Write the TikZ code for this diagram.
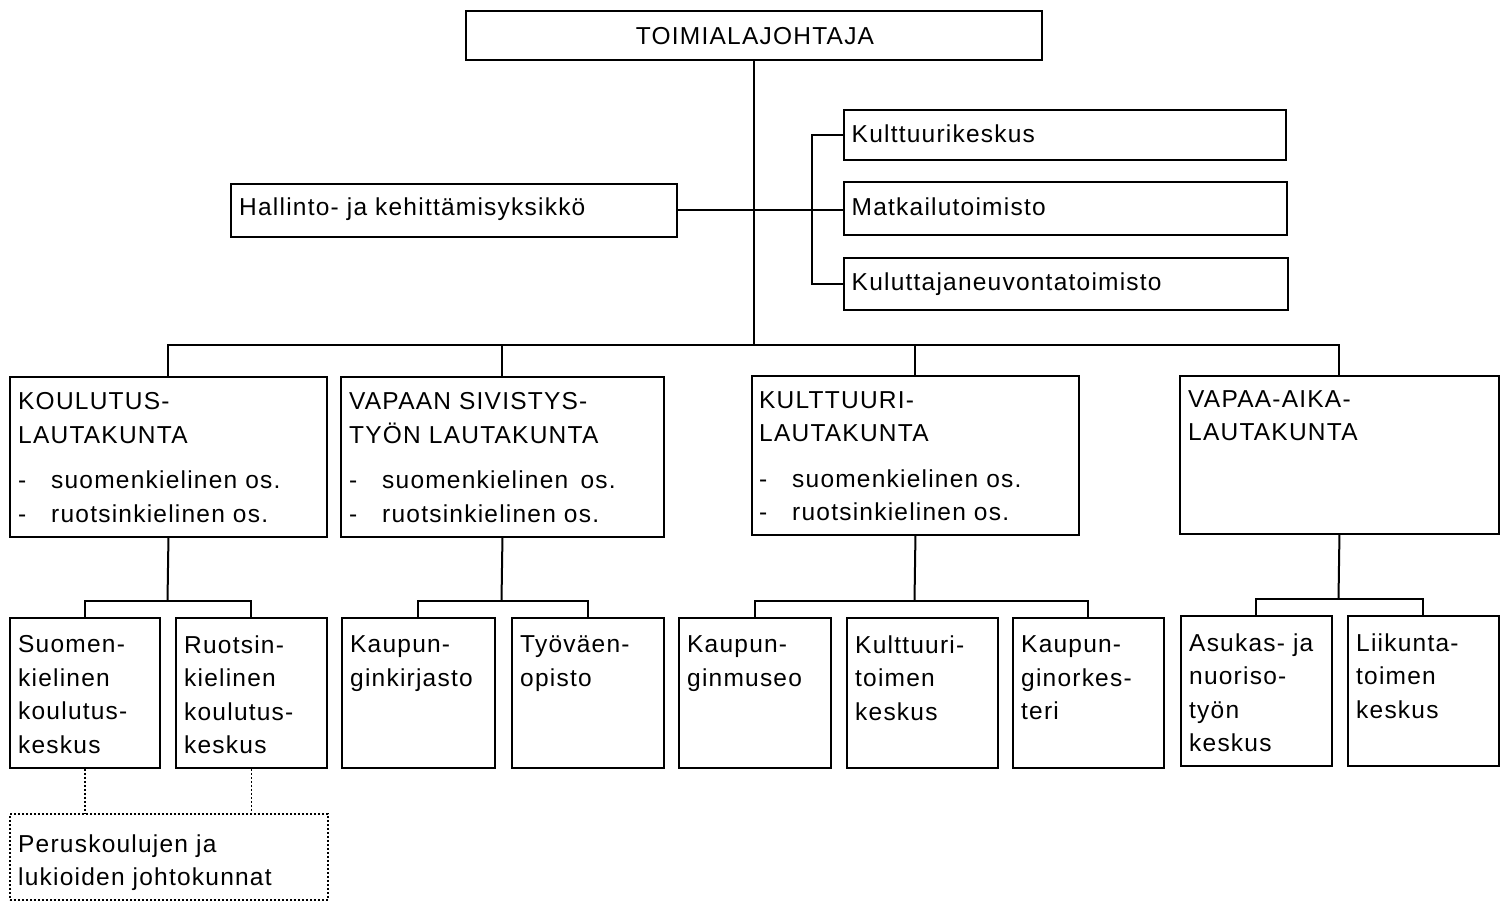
\documentclass[tikz,border=0pt]{standalone}
\usepackage{fontspec}
\setmainfont{Liberation Sans}[LetterSpace=5]
\newcommand\diafs{\fontsize{24.5}{33.5}\selectfont}
\newcommand\li[1]{\makebox[33pt][l]{-}#1}
\begin{document}
\begin{tikzpicture}[x=1pt,y=-1pt,
 box/.style={draw, line width=1.9pt, inner sep=0pt, anchor=north west},
 dbox/.style={box, line width=1.7pt, dash pattern=on 1.7pt off 2.3pt},
 txt/.style={inner sep=0pt, anchor=north west, align=left, font=\diafs},
 ltxt/.style={inner sep=0pt, anchor=base west, font=\diafs},
 conn/.style={line width=2pt},
 dconn/.style={line width=1.7pt, dash pattern=on 1.7pt off 2.3pt}]
\useasboundingbox (0,0) rectangle (1500,902);
% boxes
\node[box, minimum width=576pt, minimum height=49pt] (top) at (465,10) {};
\node[box, minimum width=446pt, minimum height=53pt] (hal) at (230,183) {};
\node[box, minimum width=442pt, minimum height=50pt] (kk) at (843,109) {};
\node[box, minimum width=443pt, minimum height=53pt] (mt) at (843,181) {};
\node[box, minimum width=444pt, minimum height=52pt] (kn) at (843,257) {};
\node[box, minimum width=317pt, minimum height=160pt] (kou) at (9,376) {};
\node[box, minimum width=323pt, minimum height=160pt] (vap) at (340,376) {};
\node[box, minimum width=327pt, minimum height=159pt] (kul) at (751,375) {};
\node[box, minimum width=319pt, minimum height=158pt] (va) at (1179,375) {};
\node[box, minimum width=150pt, minimum height=150pt] (suo) at (9,617) {};
\node[box, minimum width=151pt, minimum height=150pt] (ruo) at (175,617) {};
\node[box, minimum width=153pt, minimum height=150pt] (kir) at (341,617) {};
\node[box, minimum width=152pt, minimum height=150pt] (tyo) at (511,617) {};
\node[box, minimum width=152pt, minimum height=150pt] (mus) at (678,617) {};
\node[box, minimum width=151pt, minimum height=150pt] (ktk) at (846,617) {};
\node[box, minimum width=151pt, minimum height=150pt] (ork) at (1012,617) {};
\node[box, minimum width=151pt, minimum height=150pt] (asu) at (1180,615) {};
\node[box, minimum width=151pt, minimum height=150pt] (lii) at (1347,615) {};
\node[dbox, minimum width=318pt, minimum height=86pt] (per) at (9,813) {};
% texts
\node[ltxt, anchor=base] (top-t) at (755,44.5) {TOIMIALAJOHTAJA};
\node[ltxt] (hal-t) at (239,215) {Hallinto- ja kehittämisyksikkö};
\node[ltxt] (kk-t) at (851.5,142) {Kulttuurikeskus};
\node[ltxt] (mt-t) at (851.5,215) {Matkailutoimisto};
\node[ltxt] (kn-t) at (851.5,290) {Kuluttajaneuvontatoimisto};
\node[txt] (kou-t) at (18,392.5) {KOULUTUS-\\LAUTAKUNTA\\[12pt]\li{suomenkielinen os.}\\\li{ruotsinkielinen os.}};
\node[txt] (vap-t) at (349,392.5) {VAPAAN SIVISTYS-\\TYÖN LAUTAKUNTA\\[12pt]\li{suomenkielinen\enspace os.}\\\li{ruotsinkielinen os.}};
\node[txt] (kul-t) at (759,391) {KULTTUURI-\\LAUTAKUNTA\\[12pt]\li{suomenkielinen os.}\\\li{ruotsinkielinen os.}};
\node[txt] (va-t) at (1188,390) {VAPAA-AIKA-\\LAUTAKUNTA};
\node[txt] (suo-t) at (18,635.5) {Suomen-\\kielinen\\koulutus-\\keskus};
\node[txt] (ruo-t) at (184,635.5) {Ruotsin-\\kielinen\\koulutus-\\keskus};
\node[txt] (kir-t) at (350,635.5) {Kaupun-\\ginkirjasto};
\node[txt] (tyo-t) at (520,635.5) {Työväen-\\opisto};
\node[txt] (mus-t) at (687,635.5) {Kaupun-\\ginmuseo};
\node[txt] (ktk-t) at (855,635.5) {Kulttuuri-\\toimen\\keskus};
\node[txt] (ork-t) at (1021,635.5) {Kaupun-\\ginorkes-\\teri};
\node[txt] (asu-t) at (1189,633.5) {Asukas- ja\\nuoriso-\\työn\\keskus};
\node[txt] (lii-t) at (1356,633.5) {Liikunta-\\toimen\\keskus};
\node[txt] (per-t) at (18,834.5) {Peruskoulujen ja\\lukioiden johtokunnat};
% connectors
\coordinate (bus) at (751,345);
\draw[conn] (top.south) -- (top.south |- bus);
\draw[conn] (kou.north) |- (va.north |- bus) -- (va.north);
\draw[conn] (vap.north) -- (vap.north |- bus);
\draw[conn] (kul.north) -- (kul.north |- bus);
\draw[conn] (hal.east) -- (hal.east -| mt.west);
\draw[conn] (kk.west) -- ++(-31,0) |- (kn.west);
\coordinate (b1) at (167.5,601);
\coordinate (b2) at (501.5,601);
\coordinate (b3) at (914.5,601);
\coordinate (b4) at (1338.5,599);
\draw[conn] (kou.south) -- (b1);
\draw[conn] (suo.north) |- (b1) -| (ruo.north);
\draw[conn] (vap.south) -- (b2);
\draw[conn] (kir.north) |- (b2) -| (tyo.north);
\draw[conn] (kul.south) -- (b3);
\draw[conn] (mus.north) |- (b3) -| (ork.north);
\draw[conn] (va.south) -- (b4);
\draw[conn] (asu.north) |- (b4) -| (lii.north);
\draw[dconn] (suo.south) -- (suo.south |- per.north);
\draw[dconn] (ruo.south) -- (ruo.south |- per.north);
\end{tikzpicture}
\end{document}
